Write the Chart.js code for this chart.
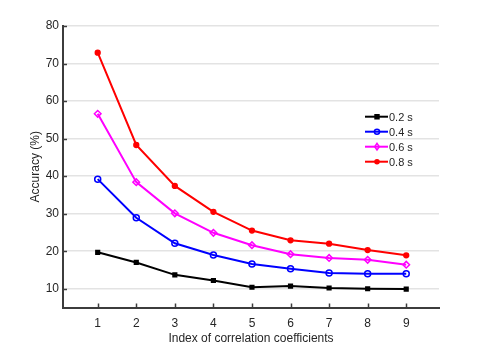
<!DOCTYPE html>
<html>
<head>
<meta charset="utf-8">
<script src="https://cdn.jsdelivr.net/npm/chart.js@4/dist/chart.umd.min.js"></script>
<style>
  html, body { margin: 0; padding: 0; background: #fff; }
  #wrap { width: 485px; height: 346px; position: relative; }
</style>
</head>
<body>
<div id="wrap"><canvas id="c"></canvas></div>
<script>
// chart data
const indices = [1, 2, 3, 4, 5, 6, 7, 8, 9];
const seriesNames = ["0.2 s", "0.4 s", "0.6 s", "0.8 s"];
const acc02 = [19.7, 17.0, 13.7, 12.2, 10.4, 10.7, 10.2, 10.0, 9.9];
const acc04 = [39.2, 28.9, 22.1, 19.0, 16.6, 15.3, 14.2, 14.0, 14.0];
const acc06 = [56.6, 38.4, 30.1, 24.9, 21.6, 19.2, 18.2, 17.7, 16.4];
const acc08 = [72.9, 48.3, 37.4, 30.5, 25.5, 22.9, 22.0, 20.3, 18.9];
const yTicks = [10, 20, 30, 40, 50, 60, 70, 80];

const FONT = "'Liberation Sans', Arial, Helvetica, sans-serif";
const AXIS = "#3c3c3c";
const TEXT = "#262626";

function pts(vals) {
  return vals.map((v, i) => ({ x: indices[i], y: v }));
}

const styles = [
  { color: "#000000", pointStyle: "rect", fill: true, r: 2.6 },
  { color: "#0000ff", pointStyle: "circle", fill: false, r: 3 },
  { color: "#ff00ff", pointStyle: "rectRot", fill: false, r: 3.3 },
  { color: "#ff0000", pointStyle: "circle", fill: true, r: 2.4 }
];
const allVals = [acc02, acc04, acc06, acc08];

const datasets = allVals.map((vals, i) => ({
  label: seriesNames[i],
  data: pts(vals),
  borderColor: styles[i].color,
  backgroundColor: styles[i].fill ? styles[i].color : "#ffffff",
  pointBackgroundColor: styles[i].fill ? styles[i].color : "rgba(255,255,255,0)",
  pointBorderColor: styles[i].color,
  pointStyle: styles[i].pointStyle,
  pointRadius: styles[i].r,
  pointBorderWidth: 1.5,
  borderWidth: 2,
  showLine: true,
  tension: 0
}));

// inward tick marks + legend inside plot
const extras = {
  id: "extras",
  afterDraw(chart) {
    const ctx = chart.ctx;
    const xs = chart.scales.x, ys = chart.scales.y;
    const area = chart.chartArea;
    ctx.save();
    ctx.strokeStyle = AXIS;
    ctx.lineWidth = 1.5;
    indices.forEach(v => {
      const px = Math.round(xs.getPixelForValue(v)) + 0.5;
      ctx.beginPath();
      ctx.moveTo(px, area.bottom);
      ctx.lineTo(px, area.bottom - 4);
      ctx.stroke();
    });
    yTicks.forEach(v => {
      const py = Math.round(ys.getPixelForValue(v)) + 0.5;
      ctx.beginPath();
      ctx.moveTo(area.left, py);
      ctx.lineTo(area.left + 4, py);
      ctx.stroke();
    });

    // legend
    const lx = 365, ly = 116.7, step = 15;
    ctx.font = "11px " + FONT;
    ctx.textBaseline = "middle";
    chart.data.datasets.forEach((ds, i) => {
      const y = ly + i * step;
      ctx.strokeStyle = ds.borderColor;
      ctx.lineWidth = 2;
      ctx.beginPath();
      ctx.moveTo(lx, y);
      ctx.lineTo(lx + 23, y);
      ctx.stroke();
      ctx.lineWidth = 1.5;
      ctx.fillStyle = ds.pointBackgroundColor;
      const r = ds.pointRadius;
      const cx = lx + 12;
      ctx.beginPath();
      if (ds.pointStyle === "rect") {
        ctx.rect(cx - r * 0.75, y - r * 0.75, r * 1.5, r * 1.5);
      } else if (ds.pointStyle === "rectRot") {
        ctx.moveTo(cx, y - r); ctx.lineTo(cx + r * 0.7, y);
        ctx.lineTo(cx, y + r); ctx.lineTo(cx - r * 0.7, y); ctx.closePath();
      } else {
        ctx.arc(cx, y, r * 0.85, 0, Math.PI * 2);
      }
      ctx.fill();
      ctx.stroke();
      ctx.fillStyle = TEXT;
      ctx.fillText(ds.label, lx + 24, y + 1);
    });
    ctx.restore();
  }
};

new Chart(document.getElementById("c"), {
  type: "scatter",
  data: { datasets },
  options: {
    responsive: true,
    maintainAspectRatio: false,
    animation: false,
    events: [],
    layout: { padding: { left: 28, top: 26, right: 46, bottom: 0 } },
    plugins: {
      legend: { display: false },
      tooltip: { enabled: false }
    },
    scales: {
      x: {
        type: "linear",
        min: 0.1,
        max: 9.85,
        afterBuildTicks: s => { s.ticks = indices.map(v => ({ value: v })); },
        afterFit: s => { s.height = 38.5; },
        grid: { display: false, drawTicks: false },
        border: { display: true, color: AXIS, width: 2 },
        ticks: { color: TEXT, font: { family: FONT, size: 12 }, padding: 9 },
        title: {
          display: true,
          text: "Index of correlation coefficients",
          color: TEXT,
          font: { family: FONT, size: 12 },
          padding: { top: 0, bottom: 0 }
        }
      },
      y: {
        min: 5,
        max: 80,
        afterBuildTicks: s => { s.ticks = yTicks.map(v => ({ value: v })); },
        afterFit: s => { s.width = 35; },
        grid: { color: "#e3e3e3", lineWidth: 1.5, drawTicks: false },
        border: { display: true, color: AXIS, width: 2 },
        ticks: { color: TEXT, font: { family: FONT, size: 12 }, padding: 4 },
        title: {
          display: true,
          text: "Accuracy (%)",
          color: TEXT,
          font: { family: FONT, size: 12 },
          padding: { top: 0, bottom: 0 }
        }
      }
    }
  },
  plugins: [extras]
});
</script>
</body>
</html>
